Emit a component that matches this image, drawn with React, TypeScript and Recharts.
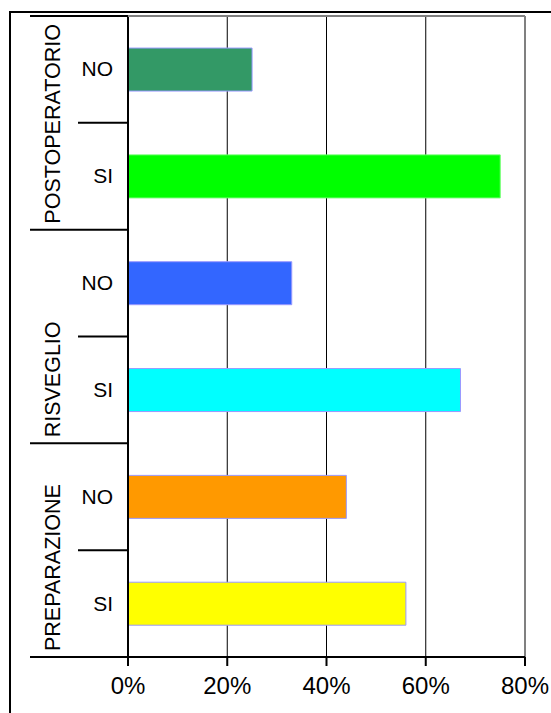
import React from 'react';
import {
  BarChart,
  Bar,
  Cell,
  XAxis,
  YAxis,
  CartesianGrid,
  ReferenceLine,
} from 'recharts';

// phases top to bottom, each with a NO / SI split (percent)
const groups = ['POSTOPERATORIO', 'RISVEGLIO', 'PREPARAZIONE'];
const answers = ['NO', 'SI'];
const noValues = [25, 33, 44];
const siValues = [75, 67, 56];
const noColors = ['#339966', '#3366FF', '#FF9900'];
const siColors = ['#00FF00', '#00FFFF', '#FFFF00'];
const xTicks = [0, 20, 40, 60, 80];

const FONT = '"Liberation Sans", Arial, sans-serif';
const WIDTH = 551;
const HEIGHT = 713;
const MARGIN = { top: 16, right: 26, left: 0, bottom: 0 };
const X_AXIS_H = 56;
const AXIS_X = 128;
const PLOT_RIGHT = WIDTH - MARGIN.right;

const rows = groups.flatMap((group, gi) =>
  answers.map((answer, ai) => ({
    key: `${group}-${answer}`,
    group,
    answer,
    value: ai === 0 ? noValues[gi] : siValues[gi],
    fill: ai === 0 ? noColors[gi] : siColors[gi],
  }))
);

const band = (HEIGHT - MARGIN.top - MARGIN.bottom - X_AXIS_H) / rows.length;

// answer label, plus the separators: long ones close a phase, short ones split NO/SI
function AnswerTick({ y, payload, index }: any) {
  const row = rows.find((r) => r.key === payload.value) ?? rows[index];
  const i = rows.indexOf(row);
  const top = y - band / 2;
  const bottom = y + band / 2;
  const lastOfGroup = i % answers.length === answers.length - 1;
  return (
    <g>
      {i === 0 && (
        <line x1={AXIS_X} x2={PLOT_RIGHT} y1={top} y2={top} stroke="#808080" strokeWidth={2} />
      )}
      <line
        x1={i % answers.length === 0 ? 30 : 78}
        x2={AXIS_X}
        y1={top}
        y2={top}
        stroke="#000"
        strokeWidth={2}
      />
      {i === rows.length - 1 && (
        <line x1={30} x2={AXIS_X} y1={bottom} y2={bottom} stroke="#000" strokeWidth={2} />
      )}
      <text x={AXIS_X - 15} y={y + 7} textAnchor="end" fontSize={21} fontFamily={FONT} fill="#000">
        {row.answer}
      </text>
      {lastOfGroup && (
        <text
          transform={`translate(60, ${bottom - 6}) rotate(-90)`}
          textAnchor="start"
          fontSize={21.5}
          fontFamily={FONT}
          fill="#000"
        >
          {row.group}
        </text>
      )}
    </g>
  );
}

function PercentTick({ x, y, payload }: any) {
  return (
    <text x={x} y={y + 26} textAnchor="middle" fontSize={24} fontFamily={FONT} fill="#000">
      {`${payload.value}%`}
    </text>
  );
}

export default function App() {
  return (
    <div
      style={{
        position: 'absolute',
        left: 0,
        top: 0,
        width: WIDTH,
        height: HEIGHT,
        overflow: 'hidden',
        background: '#fff',
      }}
    >
      <div
        style={{
          position: 'absolute',
          left: 9,
          top: 11,
          width: 600,
          height: 760,
          borderTop: '2px solid #000',
          borderLeft: '2px solid #000',
        }}
      />
      <div style={{ position: 'absolute', left: 0, top: 0 }}>
        <BarChart
          width={WIDTH}
          height={HEIGHT}
          layout="vertical"
          data={rows}
          margin={MARGIN}
          barCategoryGap="30%"
        >
          <CartesianGrid horizontal={false} stroke="#000" strokeWidth={1} />
          <XAxis
            type="number"
            domain={[0, 80]}
            ticks={xTicks}
            height={X_AXIS_H}
            tickSize={9}
            tickLine={{ stroke: '#000', strokeWidth: 2 }}
            axisLine={{ stroke: '#000', strokeWidth: 2 }}
            tick={<PercentTick />}
          />
          <YAxis
            type="category"
            dataKey="key"
            width={AXIS_X}
            tickLine={false}
            axisLine={{ stroke: '#000', strokeWidth: 2 }}
            tick={<AnswerTick />}
          />
          <ReferenceLine x={80} stroke="#808080" strokeWidth={2} />
          <Bar dataKey="value" isAnimationActive={false}>
            {rows.map((r) => (
              <Cell
                key={r.key}
                fill={r.fill}
                stroke={r.fill === '#00FF00' ? '#66FF66' : '#9999FF'}
                strokeWidth={1}
              />
            ))}
          </Bar>
        </BarChart>
      </div>
    </div>
  );
}
